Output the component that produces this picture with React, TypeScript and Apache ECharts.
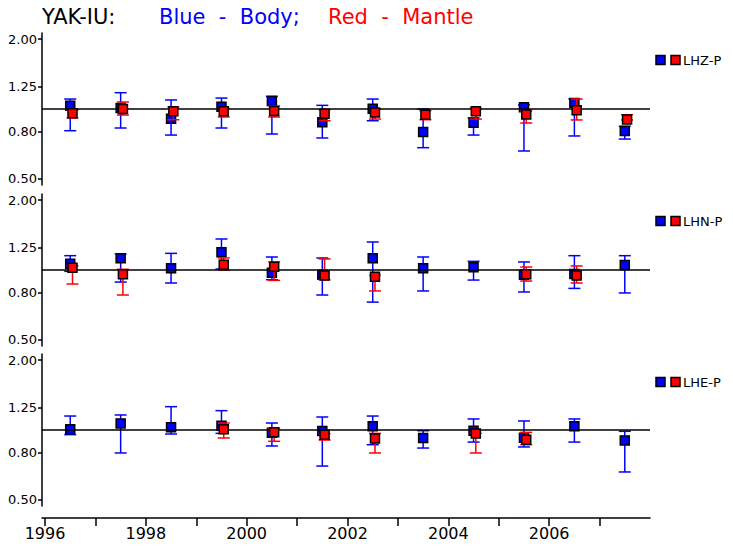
import React, { useEffect, useRef } from "react";
import * as echarts from "echarts";

const years = [1996.5, 1997.5, 1998.5, 1999.5, 2000.5, 2001.5, 2002.5, 2003.5, 2004.5, 2005.5, 2006.5, 2007.5];
const xTicks = [1996, 1997, 1998, 1999, 2000, 2001, 2002, 2003, 2004, 2005, 2006, 2007];
const xLabels = [1996, 1998, 2000, 2002, 2004, 2006];
const yTicks = [0.5, 0.8, 1.25, 2.0];

const channels = ["LHZ-P", "LHN-P", "LHE-P"];

const lhzBody = [1.034, 1.01, 0.908, 1.023, 1.083, 0.876, 1.003, 0.796, 0.873, 1.017, 1.061, 0.804];
const lhzBodyLo = [0.806, 0.828, 0.772, 0.828, 0.78, 0.75, 0.89, 0.681, 0.772, 0.659, 0.765, 0.742];
const lhzBodyHi = [1.104, 1.176, 1.094, 1.115, 1.134, 1.037, 1.104, 1.0, 0.915, 1.04, 1.104, 0.842];
const lhzMantle = [0.958, 1.0, 0.977, 0.977, 0.98, 0.955, 0.967, 0.945, 0.977, 0.948, 0.987, 0.902];
const lhzMantleLo = [0.915, 0.942, 0.899, 0.924, 0.924, 0.89, 0.905, 0.899, 0.905, 0.87, 0.897, 0.897];
const lhzMantleHi = [0.99, 1.072, 1.02, 1.007, 1.03, 0.993, 1.0, 0.984, 1.01, 0.98, 1.104, 0.945];

const lhnBody = [1.065, 1.123, 1.017, 1.192, 0.974, 0.955, 1.123, 1.017, 1.027, 0.955, 0.961, 1.051];
const lhnBodyLo = [0.987, 0.887, 0.879, 1.01, 0.908, 0.78, 0.727, 0.812, 0.905, 0.804, 0.833, 0.796];
const lhnBodyHi = [1.153, 1.172, 1.18, 1.361, 1.138, 1.127, 1.321, 1.138, 1.09, 1.083, 1.153, 1.153];
const lhnMantle = [1.023, 0.958, null, 1.054, 1.034, 0.948, 0.936, null, null, 0.958, 0.948, null];
const lhnMantleLo = [0.87, 0.78, null, 1.0, 0.902, 0.908, 0.812, null, null, 0.896, 0.879, null];
const lhnMantleHi = [1.044, 1.007, null, 1.127, 1.083, 1.116, 0.948, null, null, 1.03, 1.041, null];

const lheBody = [1.007, 1.068, 1.027, 1.044, 0.974, 0.99, 1.037, 0.924, 0.993, 0.927, 1.037, 0.902];
const lheBodyLo = [0.955, 0.796, 0.961, 0.967, 0.853, 0.699, 0.864, 0.836, 0.887, 0.845, 0.887, 0.659];
const lheBodyHi = [1.149, 1.161, 1.261, 1.212, 1.072, 1.138, 1.149, 0.993, 1.116, 1.094, 1.116, 0.987];
const lheMantle = [null, null, null, 1.007, 0.977, 0.955, 0.92, null, 0.967, 0.908, null, null];
const lheMantleLo = [null, null, null, 0.924, 0.894, 0.905, 0.796, null, 0.796, 0.864, null, null];
const lheMantleHi = [null, null, null, 1.072, 1.017, 0.964, 0.967, null, 0.967, 0.977, null, null];

const panels = [
  { body: lhzBody, bodyLo: lhzBodyLo, bodyHi: lhzBodyHi, mantle: lhzMantle, mantleLo: lhzMantleLo, mantleHi: lhzMantleHi },
  { body: lhnBody, bodyLo: lhnBodyLo, bodyHi: lhnBodyHi, mantle: lhnMantle, mantleLo: lhnMantleLo, mantleHi: lhnMantleHi },
  { body: lheBody, bodyLo: lheBodyLo, bodyHi: lheBodyHi, mantle: lheMantle, mantleLo: lheMantleLo, mantleHi: lheMantleHi },
];

const BLUE = "#0000ff";
const RED = "#ff0000";
const FONT = "DejaVu Sans";
const MANTLE_DODGE = 0.045;

function errSeries(idx: number, xs: number[], lo: (number | null)[], hi: (number | null)[], color: string) {
  const data: number[][] = [];
  xs.forEach((x, i) => {
    if (lo[i] != null && hi[i] != null) data.push([x, lo[i] as number, hi[i] as number]);
  });
  return {
    type: "custom",
    xAxisIndex: idx,
    yAxisIndex: idx,
    data,
    encode: { x: 0, y: [1, 2] },
    z: 2,
    renderItem: (params: any, api: any) => {
      const x = api.value(0);
      const pLo = api.coord([x, api.value(1)]);
      const pHi = api.coord([x, api.value(2)]);
      const hw = 6;
      const st = { stroke: color, lineWidth: 1.5 };
      return {
        type: "group",
        children: [
          { type: "line", shape: { x1: pLo[0], y1: pLo[1], x2: pHi[0], y2: pHi[1] }, style: st },
          { type: "line", shape: { x1: pLo[0] - hw, y1: pLo[1], x2: pLo[0] + hw, y2: pLo[1] }, style: st },
          { type: "line", shape: { x1: pHi[0] - hw, y1: pHi[1], x2: pHi[0] + hw, y2: pHi[1] }, style: st },
        ],
      };
    },
  };
}

function pointSeries(idx: number, xs: number[], vals: (number | null)[], color: string, z: number) {
  const data: number[][] = [];
  xs.forEach((x, i) => {
    if (vals[i] != null) data.push([x, vals[i] as number]);
  });
  return {
    type: "scatter",
    xAxisIndex: idx,
    yAxisIndex: idx,
    data,
    symbol: "rect",
    symbolSize: 9,
    z,
    itemStyle: { color, borderColor: "#000", borderWidth: 1.5, opacity: 1 },
  };
}

export default function App() {
  const ref = useRef<HTMLDivElement>(null);
  useEffect(() => {
    if (!ref.current) return;
    const chart = echarts.init(ref.current, null, { renderer: "svg" });
    const gridTops = [33, 194, 354];
    const grids = gridTops.map((t) => ({ left: 42, width: 608, top: t, height: 152 }));
    const xAxes = gridTops.map((_, i) => ({
      type: "value",
      gridIndex: i,
      min: 1995.94,
      max: 2008,
      show: i === 2,
      offset: 12,
      splitLine: { show: false },
      axisLine: { show: true, onZero: false, lineStyle: { color: "#000", width: 1.5 } },
      axisTick: { show: true, customValues: xTicks, length: 8, lineStyle: { color: "#000", width: 1.5 } },
      axisLabel: {
        customValues: xLabels,
        formatter: (v: number) => String(v),
        color: "#000",
        fontSize: 16,
        fontFamily: FONT,
        margin: 7,
      },
    }));
    const yAxes = gridTops.map((_, i) => ({
      type: "log",
      gridIndex: i,
      min: 0.47,
      max: 2.128,
      splitLine: { show: false },
      axisLine: { show: true, lineStyle: { color: "#000", width: 1.5 } },
      axisTick: { show: true, customValues: yTicks, length: 4, lineStyle: { color: "#000", width: 1.5 } },
      axisLabel: {
        customValues: yTicks,
        formatter: (v: number) => v.toFixed(2),
        color: "#000",
        fontSize: 13,
        fontFamily: FONT,
        margin: 5,
      },
    }));
    const series: any[] = [];
    panels.forEach((p, i) => {
      const mx = years.map((y) => y + MANTLE_DODGE);
      series.push({
        type: "line",
        xAxisIndex: i,
        yAxisIndex: i,
        data: [],
        markLine: {
          silent: true,
          symbol: "none",
          label: { show: false },
          lineStyle: { color: "#000", width: 1.5, type: "solid" },
          data: [{ yAxis: 1 }],
        },
      });
      series.push(errSeries(i, years, p.bodyLo, p.bodyHi, BLUE));
      series.push(pointSeries(i, years, p.body, BLUE, 3));
      series.push({ ...errSeries(i, mx, p.mantleLo, p.mantleHi, RED), z: 4 });
      series.push(pointSeries(i, mx, p.mantle, RED, 5));
    });
    const legendY = [60, 221, 382];
    const graphic: any[] = [
      { type: "text", left: 42, top: 6, style: { text: "YAK-IU:", fill: "#000", font: `21px '${FONT}'` } },
      { type: "text", left: 159, top: 6, style: { text: "Blue  -  Body;", fill: BLUE, font: `21px '${FONT}'` } },
      { type: "text", left: 328, top: 6, style: { text: "Red  -  Mantle", fill: RED, font: `21px '${FONT}'` } },
    ];
    legendY.forEach((cy, i) => {
      graphic.push({ type: "rect", shape: { x: 656, y: cy - 4.5, width: 9, height: 9 }, style: { fill: BLUE, stroke: "#000", lineWidth: 1.5 } });
      graphic.push({ type: "rect", shape: { x: 671, y: cy - 4.5, width: 9, height: 9 }, style: { fill: RED, stroke: "#000", lineWidth: 1.5 } });
      graphic.push({
        type: "text",
        x: 683,
        y: cy,
        style: { text: channels[i], fill: "#000", font: `13px '${FONT}'`, verticalAlign: "middle", textAlign: "left" },
      });
    });
    chart.setOption({
      animation: false,
      backgroundColor: "#fff",
      grid: grids,
      xAxis: xAxes,
      yAxis: yAxes,
      series,
      graphic,
    });
    return () => chart.dispose();
  }, []);
  return <div ref={ref} style={{ position: "fixed", left: 0, top: 0, width: 733, height: 551 }} />;
}
